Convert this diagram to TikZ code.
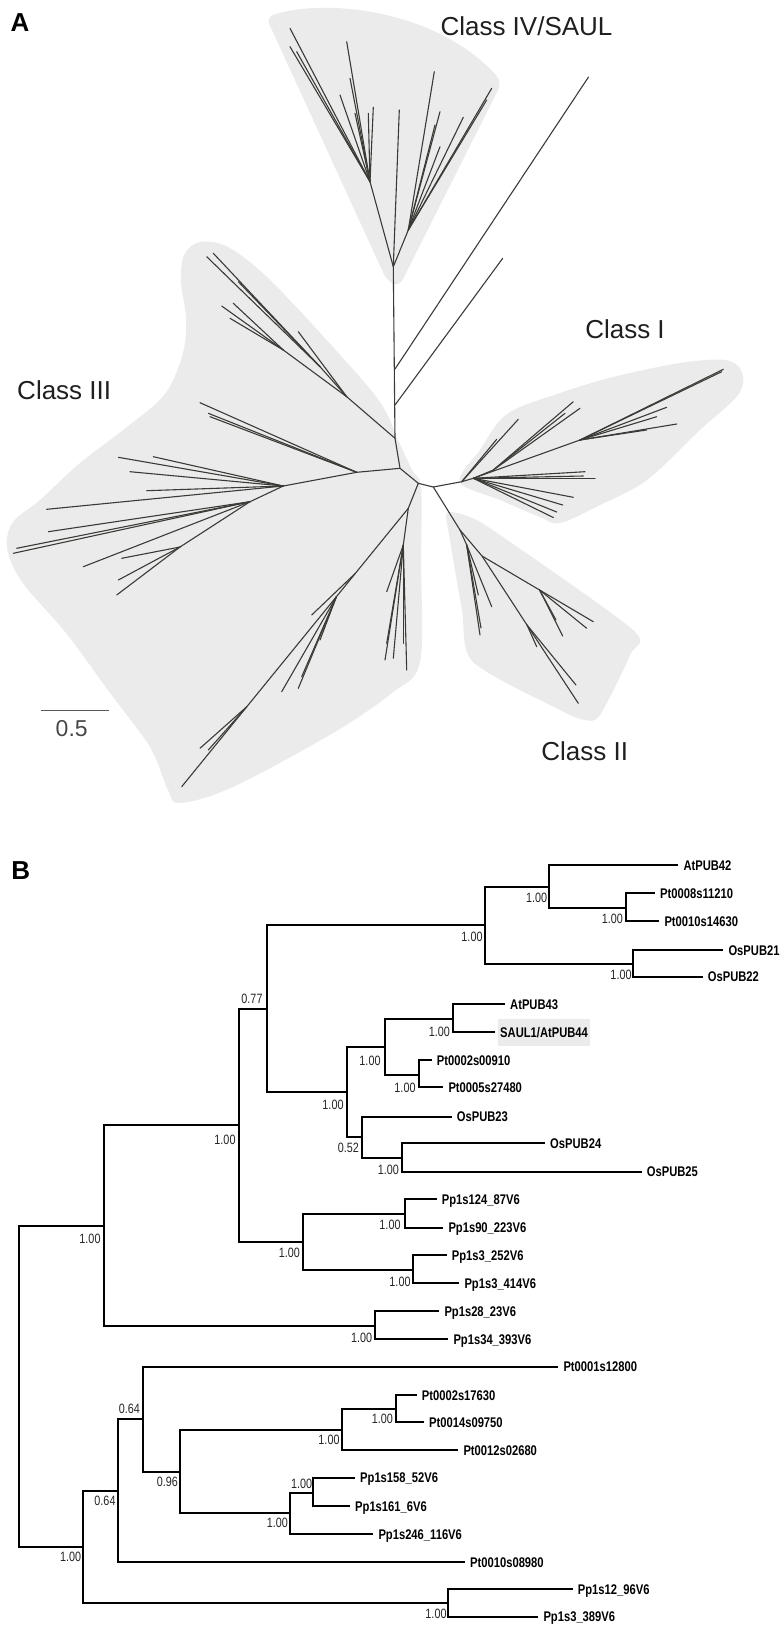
\documentclass[tikz,border=0pt]{standalone}
\usepackage{fontspec}
\setmainfont{Liberation Sans}
\newfontfamily\nrw[FakeStretch=0.8]{Liberation Sans}
\definecolor{hull}{HTML}{EBEBEB}
\definecolor{trc}{HTML}{3A3A36}
\begin{document}
\begin{tikzpicture}[x=1pt,y=-1pt,
 tr/.style={draw=trc,line width=1.1pt,line cap=round},
 br/.style={draw=black,line width=2pt},
 tip/.style={anchor=base west,inner sep=0pt,xshift=5pt,yshift=-5pt,font=\nrw\bfseries\fontsize{14}{14}\selectfont},
 sup/.style={inner sep=0pt,font=\nrw\fontsize{13.5}{13.5}\selectfont,text=black!85},
 cls/.style={inner sep=0pt,font=\fontsize{26}{26}\selectfont,text=black!88},
 pan/.style={inner sep=0pt,font=\bfseries\fontsize{26}{26}\selectfont}]
\useasboundingbox (0,0) rectangle (784,1631);

% ================= Panel A =================
\node[pan] (labA) at (20,23) {A};
% hulls
\fill[hull,rounded corners=8pt] (266,17) .. controls (330,-3) and (440,12) .. (502,82) -- (399,287) -- (387,281) -- cycle;
\fill[hull] plot[smooth cycle,tension=0.55] coordinates {(200,242) (228,247) (268,278) (333,347) (380,402) (398,440) (412,470) (421,487) (421,560) (420,662) (392,693) (333,733) (233,787) (180,803) (168,790) (150,747) (110,693) (66,633) (22,582) (7,548) (13,522) (40,500) (80,463) (127,427) (165,394) (183,353) (186,318) (181,282) (184,255)};
\fill[hull] plot[smooth cycle,tension=0.55] coordinates {(460,482) (480,450) (507,414) (560,393) (613,377) (680,363) (725,360) (742,372) (738,395) (700,430) (647,480) (600,505) (560,523) (540,517) (500,500)};
\fill[hull] plot[smooth cycle,tension=0.45] coordinates {(447,513) (470,517) (500,535) (633,630) (630,655) (600,715) (585,720) (560,710) (473,662) (462,610) (450,540)};

% backbone
\coordinate (A4) at (393.3,266.7);
\coordinate (T1) at (395,369);
\coordinate (T2) at (395,405);
\coordinate (B) at (395,438.3);
\coordinate (C) at (400,468.3);
\coordinate (D) at (418.3,483.3);
\coordinate (E) at (433.3,487);
\coordinate (F) at (461.7,481.7);
\coordinate (G) at (460,530);
\coordinate (O1) at (588.5,77);
\coordinate (O2) at (502.7,258.3);
\draw[tr] (A4) -- (B) -- (C) -- (D) -- (E) -- (F);
\draw[tr] (E) -- (G);
\draw[tr] (T1) -- (O1);
\draw[tr] (T2) -- (O2);

% Class IV
\coordinate (L1) at (370,181.7);
\coordinate (R1) at (408.3,230);
\draw[tr] (A4) -- (L1);
\draw[tr] (A4) -- (R1);
\draw[tr] (A4) -- (399.3,110);
\foreach \x/\y in {290/28.3, 290/46.7, 296.7/51.7, 340/95, 346.7/41.7, 350/78.3, 355/113.3, 368.3/113.3, 373.3/107.3}
  \draw[tr] (L1) -- (\x,\y);
\foreach \x/\y in {434.3/71.7, 440/111.7, 435/125, 440/146.7, 463.3/117.3, 491.7/88.3, 486.7/100}
  \draw[tr] (R1) -- (\x,\y);

% Class III upper
\coordinate (U1) at (346.7,396.7);
\coordinate (U2) at (320,366.7);
\coordinate (U3) at (283.3,350);
\draw[tr] (B) -- (U1);
\draw[tr] (U1) -- (U2);
\draw[tr] (U1) -- (U3);
\draw[tr] (U1) -- (298.3,331.7);
\foreach \x/\y in {213.3/253.3, 206.7/256.7, 238.3/281.7}
  \draw[tr] (U2) -- (\x,\y);
\foreach \x/\y in {221.7/306, 233.3/303.3, 230/318.3}
  \draw[tr] (U3) -- (\x,\y);

% Class III middle
\coordinate (M1) at (356.7,472.3);
\coordinate (M2) at (283.3,486);
\coordinate (M3) at (250,501.7);
\coordinate (M4) at (180,547);
\draw[tr] (C) -- (M1) -- (M2);
\draw[tr] (M2) -- (M3) -- (M4);
\foreach \x/\y in {200/402.7, 208.3/413.3, 210/416.7}
  \draw[tr] (M1) -- (\x,\y);
\foreach \x/\y in {118.3/457.3, 153.3/456.7, 130/471.7, 146.7/490.7, 46.7/509.3}
  \draw[tr] (M2) -- (\x,\y);
\foreach \x/\y in {48.3/531.7, 16.7/548.3, 13.3/553.3, 83.3/566.7}
  \draw[tr] (M3) -- (\x,\y);
\foreach \x/\y in {121.7/558.3, 118.3/580, 116.7/595}
  \draw[tr] (M4) -- (\x,\y);

% Class III lower
\coordinate (N1) at (408.3,508.3);
\coordinate (N2) at (403.3,545);
\coordinate (P1) at (355.4,573.3);
\coordinate (P2) at (336.4,596.7);
\coordinate (P3) at (246.8,706.7);
\coordinate (PE) at (181.7,786.7);
\draw[tr] (D) -- (N1) -- (N2);
\draw[tr] (N1) -- (P1) -- (P2) -- (P3) -- (PE);
\foreach \x/\y in {386.7/591.7, 385/660, 386.7/643.3, 393.3/658.3, 406.7/670, 403.3/643.3}
  \draw[tr] (N2) -- (\x,\y);
\draw[tr] (P1) -- (311.7,615);
\foreach \x/\y in {281.7/691.7, 298.3/688.3, 301.7/676.7, 320/640}
  \draw[tr] (P2) -- (\x,\y);
\foreach \x/\y in {200/748.3, 208.3/750}
  \draw[tr] (P3) -- (\x,\y);

% Class I
\coordinate (I1) at (473.3,478.3);
\coordinate (Ib) at (493.3,470);
\coordinate (Ic) at (580,440);
\draw[tr] (F) -- (I1) -- (Ic);
\draw[tr] (I1) -- (Ib);
\foreach \x/\y in {518.3/419.3, 496.7/439.3}
  \draw[tr] (F) -- (\x,\y);
\foreach \x/\y in {573.3/401.7, 580/408.3, 565/413.3}
  \draw[tr] (Ib) -- (\x,\y);
\foreach \x/\y in {723.3/369.3, 721.7/371.7, 666.7/407.3, 656.7/416.7, 676.7/424, 646.7/430}
  \draw[tr] (Ic) -- (\x,\y);
\foreach \x/\y in {585/471.7, 595/478.3, 583.3/476, 573.3/497.3, 562.7/505, 556.7/512, 553.3/517.5}
  \draw[tr] (I1) -- (\x,\y);

% Class II
\coordinate (IIa) at (466.7,545);
\coordinate (IIb) at (482,556);
\coordinate (IIc) at (539.6,590);
\coordinate (IId) at (527,625);
\draw[tr] (G) -- (IIa);
\draw[tr] (G) -- (IIb) -- (IIc);
\draw[tr] (IIb) -- (IId);
\foreach \x/\y in {480/635, 478.3/595, 491.7/606.7, 481/628}
  \draw[tr] (IIa) -- (\x,\y);
\foreach \x/\y in {593.3/621.7, 586.7/628.3, 562.7/636, 556/620}
  \draw[tr] (IIc) -- (\x,\y);
\foreach \x/\y in {578.3/703.3, 576/685, 536.7/646.7}
  \draw[tr] (IId) -- (\x,\y);

% labels A
\node[cls] (c4) at (526.5,26.7) {Class IV/SAUL};
\node[cls] (c1) at (625,329) {Class I};
\node[cls] (c2) at (584.7,751) {Class II};
\node[cls] (c3) at (64.2,390) {Class III};
\coordinate (sb1) at (40.7,710.7);
\coordinate (sb2) at (109,710.7);
\draw[draw=black!65,line width=1.1pt] (sb1) -- (sb2);
\node[inner sep=0pt,font=\fontsize{23}{23}\selectfont,text=black!72] (sbl) at (71.7,728.3) {0.5};

% ================= Panel B =================
\node[pan] (labB) at (20.7,870.8) {B};
\coordinate (R) at (19,1386);
\coordinate (N1b) at (104.3,1225.7);
\coordinate (N2b) at (83.3,1546.7);
\coordinate (N3b) at (239.3,1125);
\coordinate (N4b) at (375,1325.7);
\coordinate (N5b) at (266.7,1009);
\coordinate (N6b) at (303.3,1241.7);
\coordinate (N7b) at (485,925);
\coordinate (N8b) at (346.7,1091.7);
\coordinate (N9b) at (549.3,886.7);
\coordinate (N10b) at (633.3,964);
\coordinate (N11b) at (625.7,908.3);
\coordinate (N12b) at (385,1046.7);
\coordinate (N13b) at (362.3,1137);
\coordinate (N14b) at (452.7,1019);
\coordinate (N15b) at (419.3,1075);
\coordinate (N16b) at (402.3,1158.3);
\coordinate (N17b) at (405,1214.3);
\coordinate (N18b) at (413.3,1270);
\coordinate (N19b) at (118.3,1490.7);
\coordinate (N20b) at (448.3,1603.3);
\coordinate (N21b) at (143.3,1419.3);
\coordinate (N22b) at (180,1471.7);
\coordinate (N23b) at (341.7,1430);
\coordinate (N24b) at (290,1513.3);
\coordinate (N25b) at (395.7,1409);
\coordinate (N26b) at (313.3,1492.7);
% leaves
\coordinate (l1) at (678.3,865);
\coordinate (l2) at (655,893.3);
\coordinate (l3) at (659.3,921);
\coordinate (l4) at (723.3,950);
\coordinate (l5) at (702.7,976.7);
\coordinate (l6) at (505,1004);
\coordinate (l7) at (495,1032.3);
\coordinate (l8) at (431.7,1060);
\coordinate (l9) at (443.3,1087.3);
\coordinate (l10) at (451.7,1116.7);
\coordinate (l11) at (545,1143.3);
\coordinate (l12) at (641.7,1171.7);
\coordinate (l13) at (436.7,1199);
\coordinate (l14) at (443.3,1227.7);
\coordinate (l15) at (446.7,1255);
\coordinate (l16) at (459.3,1283.3);
\coordinate (l17) at (439.3,1311);
\coordinate (l18) at (448.3,1339);
\coordinate (l19) at (465,1562.3);
\coordinate (l20) at (558.3,1366.7);
\coordinate (l21) at (458.3,1450);
\coordinate (l22) at (416.7,1395);
\coordinate (l23) at (424,1422.3);
\coordinate (l24) at (373.3,1534.3);
\coordinate (l25) at (355,1477.7);
\coordinate (l26) at (350,1506);
\coordinate (l27) at (572.7,1589);
\coordinate (l28) at (538.3,1616.7);

\foreach \p/\c in {R/N1b, R/N2b, N1b/N3b, N1b/N4b, N3b/N5b, N3b/N6b, N5b/N7b, N5b/N8b,
  N7b/N9b, N7b/N10b, N9b/l1, N9b/N11b, N11b/l2, N11b/l3, N10b/l4, N10b/l5,
  N8b/N12b, N8b/N13b, N12b/N14b, N12b/N15b, N14b/l6, N14b/l7, N15b/l8, N15b/l9,
  N13b/l10, N13b/N16b, N16b/l11, N16b/l12, N6b/N17b, N6b/N18b, N17b/l13, N17b/l14,
  N18b/l15, N18b/l16, N4b/l17, N4b/l18, N2b/N19b, N2b/N20b, N19b/N21b, N19b/l19,
  N21b/l20, N21b/N22b, N22b/N23b, N22b/N24b, N23b/N25b, N23b/l21, N25b/l22, N25b/l23,
  N24b/N26b, N24b/l24, N26b/l25, N26b/l26, N20b/l27, N20b/l28}
  \draw[br] (\p) |- (\c);

% tip labels
\node[tip] (t1) at (l1) {AtPUB42};
\node[tip] (t2) at (l2) {Pt0008s11210};
\node[tip] (t3) at (l3) {Pt0010s14630};
\node[tip] (t4) at (l4) {OsPUB21};
\node[tip] (t5) at (l5) {OsPUB22};
\node[tip] (t6) at (l6) {AtPUB43};
\node[anchor=west,fill=hull,inner xsep=2pt,inner ysep=0pt,xshift=3pt,minimum height=26.7pt,text height=10pt,text depth=0pt,font=\nrw\bfseries\fontsize{14}{14}\selectfont] (t7) at (l7) {SAUL1/AtPUB44};
\node[tip] (t8) at (l8) {Pt0002s00910};
\node[tip] (t9) at (l9) {Pt0005s27480};
\node[tip] (t10) at (l10) {OsPUB23};
\node[tip] (t11) at (l11) {OsPUB24};
\node[tip] (t12) at (l12) {OsPUB25};
\node[tip] (t13) at (l13) {Pp1s124\_87V6};
\node[tip] (t14) at (l14) {Pp1s90\_223V6};
\node[tip] (t15) at (l15) {Pp1s3\_252V6};
\node[tip] (t16) at (l16) {Pp1s3\_414V6};
\node[tip] (t17) at (l17) {Pp1s28\_23V6};
\node[tip] (t18) at (l18) {Pp1s34\_393V6};
\node[tip] (t19) at (l19) {Pt0010s08980};
\node[tip] (t20) at (l20) {Pt0001s12800};
\node[tip] (t21) at (l21) {Pt0012s02680};
\node[tip] (t22) at (l22) {Pt0002s17630};
\node[tip] (t23) at (l23) {Pt0014s09750};
\node[tip] (t24) at (l24) {Pp1s246\_116V6};
\node[tip] (t25) at (l25) {Pp1s158\_52V6};
\node[tip] (t26) at (l26) {Pp1s161\_6V6};
\node[tip] (t27) at (l27) {Pp1s12\_96V6};
\node[tip] (t28) at (l28) {Pp1s3\_389V6};

% support values
\node[sup] (s1) at (90,1239.3) {1.00};
\node[sup] (s2) at (70.7,1557.3) {1.00};
\node[sup] (s3) at (225,1140) {1.00};
\node[sup] (s4) at (361.7,1338.3) {1.00};
\node[sup] (s5) at (252,999) {0.77};
\node[sup] (s6) at (289.3,1252.7) {1.00};
\node[sup] (s7) at (472,937) {1.00};
\node[sup] (s8) at (333,1105) {1.00};
\node[sup] (s9) at (536.7,897.7) {1.00};
\node[sup] (s10) at (621,975.3) {1.00};
\node[sup] (s11) at (612.3,919.3) {1.00};
\node[sup] (s12) at (370,1061) {1.00};
\node[sup] (s13) at (348.3,1148.3) {0.52};
\node[sup] (s14) at (439.3,1031.7) {1.00};
\node[sup] (s15) at (405,1088) {1.00};
\node[sup] (s16) at (388.3,1170) {1.00};
\node[sup] (s17) at (390,1224.5) {1.00};
\node[sup] (s18) at (400,1281.7) {1.00};
\node[sup] (s19) at (105,1501) {0.64};
\node[sup] (s20) at (436,1614.3) {1.00};
\node[sup] (s21) at (129.3,1409.3) {0.64};
\node[sup] (s22) at (167.3,1481.7) {0.96};
\node[sup] (s23) at (329,1440) {1.00};
\node[sup] (s24) at (277.3,1523.3) {1.00};
\node[sup] (s25) at (382.3,1419.3) {1.00};
\node[sup] (s26) at (301.7,1484.3) {1.00};
\end{tikzpicture}
\end{document}
